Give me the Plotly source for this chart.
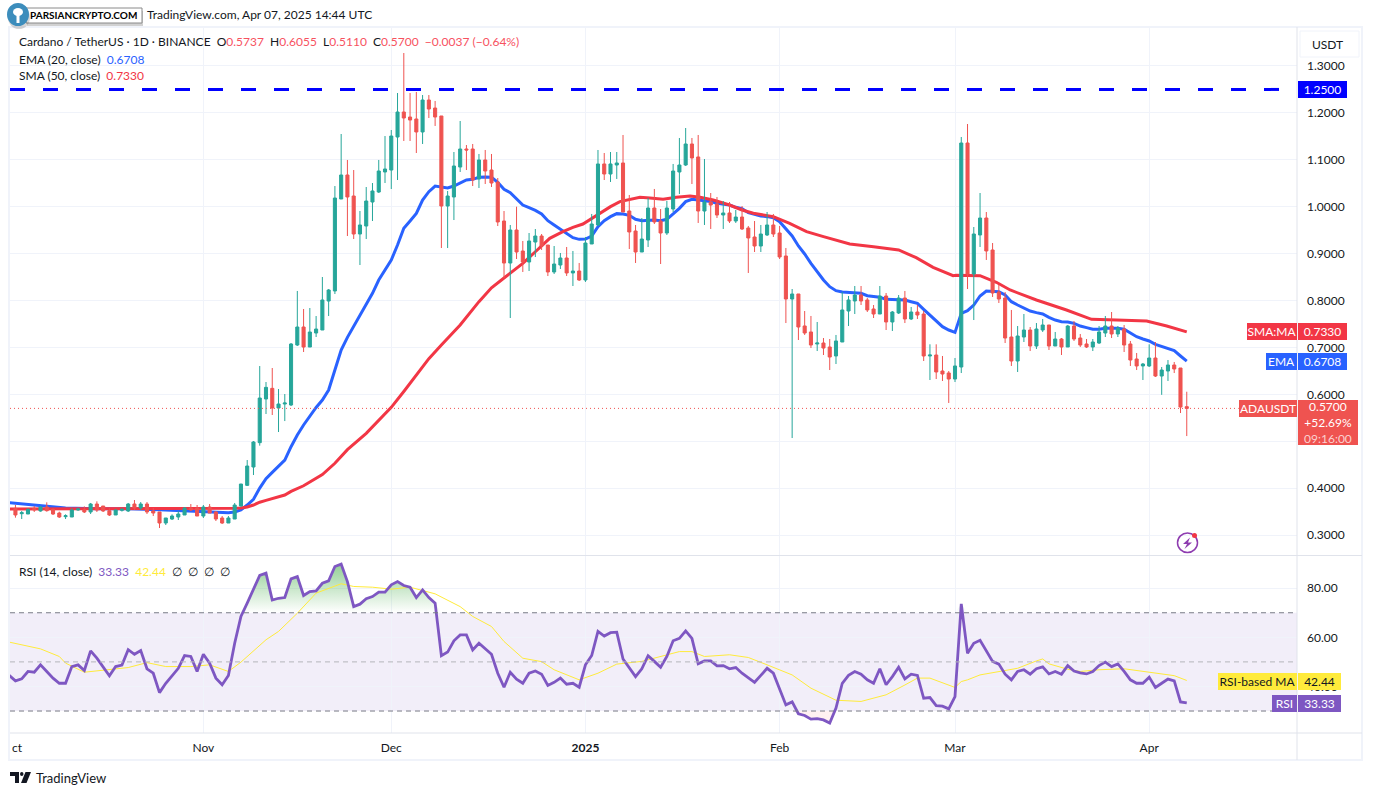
import plotly.graph_objects as go
import pandas as pd

# Data (open, high, low, close), first candle is 2 Oct 2024
data = {
  "candles": [
    [.3569,.3640,.3370,.3427],[.3455,.3512,.3341,.3476],[.3448,.3569,.3448,.3547],[.3569,.3618,.3491,.3533],
    [.3512,.3618,.3498,.3597],[.3597,.3697,.3498,.3519],[.3547,.3569,.3427,.3448],[.3469,.3498,.3363,.3384],
    [.3391,.3441,.3341,.3412],[.3384,.3569,.3384,.3533],[.3533,.3576,.3519,.3555],[.3540,.3610,.3469,.3491],
    [.3491,.3683,.3448,.3661],[.3661,.3718,.3491,.3533],[.3618,.3618,.3491,.3512],[.3519,.3569,.3405,.3427],
    [.3427,.3547,.3427,.3533],[.3526,.3570,.3500,.3547],[.3512,.3683,.3491,.3661],[.3661,.3746,.3533,.3576],
    [.3576,.3703,.3533,.3661],[.3661,.3703,.3448,.3491],[.3512,.3576,.3405,.3469],[.3491,.3491,.3149,.3256],
    [.3256,.3363,.3213,.3363],[.3341,.3441,.3320,.3405],[.3384,.3512,.3320,.3448],[.3427,.3597,.3427,.3576],
    [.3576,.3661,.3512,.3533],[.3576,.3640,.3405,.3405],
    # November
    [.3405,.3640,.3363,.3597],[.3597,.3661,.3469,.3469],[.3491,.3512,.3299,.3341],[.3363,.3405,.3235,.3256],
    [.3256,.3405,.3256,.3363],[.3341,.3683,.3341,.3640],[.3618,.4090,.3605,.4087],[.4059,.4599,.4045,.4471],
    [.4450,.5004,.4279,.4983],[.4969,.6603,.4905,.5921],[.5900,.6262,.5580,.6148],[.6127,.6561,.5559,.5708],
    [.5708,.6113,.5196,.5793],[.5793,.6006,.5430,.5814],[.5772,.7094,.5750,.7072],[.7051,.8203,.7030,.7435],
    [.7435,.7819,.6902,.7008],[.7008,.7840,.7008,.7328],[.7307,.7669,.7222,.7392],[.7371,.8501,.7371,.8011],
    [.7989,.8245,.7669,.8224],[.8203,1.0441,.8138,1.0185],[1.0164,1.1550,1.0164,1.0676],[1.0676,1.0996,.9375,1.0207],
    [1.0228,1.0782,.9311,.9418],[.9418,.9908,.8757,.9610],[.9588,1.0420,.9311,1.0121],[1.0100,1.0505,.9695,1.0335],
    [1.0313,1.0996,1.0292,1.0761],[1.0740,1.1507,1.0505,1.0804],
    # December
    [1.0782,1.1635,1.0377,1.1507],[1.1486,1.2424,1.0569,1.2019],[1.2019,1.3277,1.1401,1.1891],[1.1912,1.2424,1.1401,1.1848],
    [1.1870,1.2446,1.1145,1.1593],[1.1593,1.2381,1.1337,1.2275],[1.2275,1.2381,1.1891,1.2083],[1.2104,1.2254,1.1721,1.1912],
    [1.1934,1.1934,.9119,1.0015],[1.0015,1.0335,.9119,1.0228],[1.0207,1.1166,.9716,1.0868],[1.0846,1.1827,1.0740,1.1230],
    [1.1230,1.1315,1.0782,1.1209],[1.1230,1.1337,1.0441,1.0569],[1.0590,1.1124,1.0399,1.0996],[1.0996,1.1209,1.0484,1.0761],
    [1.0782,1.1124,1.0420,1.0505],[1.0526,1.0612,.9588,.9674],[.9695,.9908,.8480,.8799],[.8799,.9610,.7627,.9503],
    [.9503,1.0000,.8885,.9034],[.9055,.9269,.8608,.8821],[.8821,.9439,.8629,.9269],[.9247,.9524,.8927,.9375],
    [.9375,.9418,.9077,.9162],[.9183,.9183,.8522,.8608],[.8608,.9162,.8565,.8778],[.8757,.9013,.8672,.8906],
    [.8906,.9141,.8523,.8587],[.8587,.9056,.8309,.8629],[.8629,.8800,.8416,.8437],
    # January
    [.8437,.9354,.8395,.9226],[.9205,.9845,.9205,.9631],[.9610,1.1209,.9589,1.0911],[1.0911,1.1145,1.0569,1.0697],
    [1.0697,1.1166,1.0527,1.0911],[1.0889,1.1166,1.0591,1.0932],[1.0932,1.1529,.9887,.9887],[.9908,1.0250,.9098,.9461],
    [.9482,.9610,.8800,.9034],[.9034,.9759,.9034,.9311],[.9290,1.0186,.9141,.9972],[.9972,1.0378,.9631,.9674],
    [.9695,.9951,.8778,.9439],[.9439,1.0122,.9397,.9972],[.9951,1.0911,.9887,1.0761],[1.0740,1.1465,1.0271,1.0889],
    [1.0889,1.1678,1.0868,1.1337],[1.1337,1.1465,1.0484,1.1039],[1.1060,1.1529,.9653,.9908],[.9908,1.1017,.9610,1.0100],
    [1.0100,1.0292,.9525,1.0036],[1.0058,1.0207,.9759,.9823],[.9823,1.0122,.9525,.9866],[.9866,1.0100,.9653,.9695],
    [.9695,.9930,.9653,.9780],[.9780,1.0015,.9503,.9525],[.9546,.9589,.8587,.9333],[.9354,.9695,.9034,.9162],
    [.9162,.9610,.9034,.9418],[.9397,.9887,.9375,.9610],[.9610,.9845,.9354,.9418],
    # February
    [.9439,.9589,.8885,.8928],[.8949,.9120,.7520,.8032],[.8032,.8245,.5068,.8139],[.8139,.8139,.7158,.7435],
    [.7457,.7776,.7265,.7307],[.7329,.7670,.6987,.7051],[.7073,.7542,.6923,.7094],[.7094,.7200,.6838,.6987],
    [.7009,.7179,.6518,.6795],[.6817,.7265,.6646,.7137],[.7115,.8181,.7115,.7798],[.7776,.8096,.7456,.8011],
    [.7990,.8309,.7712,.8117],[.8117,.8309,.7904,.7990],[.8011,.8053,.7755,.7798],[.7819,.7904,.7627,.7712],
    [.7712,.8309,.7712,.8096],[.8096,.8160,.7371,.7542],[.7542,.7776,.7350,.7755],[.7734,.8117,.7712,.8053],
    [.8053,.8203,.7520,.7606],[.7606,.7862,.7584,.7755],[.7755,.7904,.7606,.7691],[.7712,.7776,.6710,.6817],
    [.6817,.7066,.6305,.6838],[.6838,.7066,.6326,.6476],[.6497,.6817,.6284,.6433],[.6455,.6497,.5815,.6326],
    # March
    [.6326,.6774,.6262,.6604],[.6582,1.1486,.6454,1.1358],[1.1358,1.1763,.8245,.8565],[.8565,.9567,.7584,.9418],
    [.9397,1.0292,.9141,.9759],[.9759,.9887,.8864,.9056],[.9077,.9226,.8075,.8160],[.8181,.8331,.7947,.8032],
    [.8053,.8181,.7094,.7200],[.7222,.7798,.6604,.6710],[.6710,.7456,.6476,.7243],[.7222,.7712,.7115,.7371],
    [.7371,.7435,.6923,.7030],[.7030,.7520,.6966,.7392],[.7371,.7606,.7329,.7478],[.7478,.7478,.6945,.7030],
    [.7030,.7329,.7030,.7179],[.7179,.7200,.6838,.7009],[.7009,.7478,.7009,.7456],[.7456,.7563,.7137,.7179],
    [.7200,.7286,.7009,.7051],[.7073,.7179,.6987,.7009],[.7009,.7179,.6923,.7115],[.7094,.7456,.7073,.7329],
    [.7307,.7670,.7222,.7456],[.7456,.7755,.7200,.7286],[.7286,.7456,.7222,.7414],[.7392,.7478,.6902,.7051],
    [.7073,.7137,.6604,.6731],[.6753,.6881,.6518,.6604],[.6604,.6668,.6305,.6646],
    # April
    [.6604,.7066,.6582,.6774],[.6774,.7115,.6369,.6390],[.6390,.6582,.5989,.6518],[.6497,.6731,.6284,.6625],
    [.6625,.6689,.6454,.6540],[.6561,.6561,.5601,.5729],[.5737,.6055,.5110,.5700]
  ],
  # [days after 1 Nov 2024, value]
  "ema": [
    [-30.9,.3690],[-27,.3633],[-22,.3576],[-17,.3562],[-12,.3562],[-7,.3540],[-2,.3505],[0,.3505],[3,.3483],[4,.3476],
    [5,.3490],[6,.3533],[7,.3640],[8,.3761],[9,.4000],[10,.4201],[11,.4336],[12,.4471],[13,.4599],[14,.4883],[15,.5132],
    [16,.5346],[17,.5540],[18,.5720],[19,.5878],[20,.6091],[21,.6518],[22,.6944],[23,.7214],[24,.7442],[25,.7691],
    [26,.7904],[27,.8153],[28,.8437],[29,.8650],[30,.8863],[31,.9183],[32,.9539],[33,.9695],[34,.9858],[35,1.0143],
    [36,1.0320],[37,1.0441],[38,1.0413],[39,1.0399],[40,1.0441],[41,1.0512],[42,1.0569],[43,1.0583],[44,1.0626],
    [45,1.0633],[46,1.0626],[47,1.0519],[48,1.0370],[49,1.0299],[50,1.0157],[51,1.0036],[52,.9979],[53,.9922],[54,.9844],
    [55,.9702],[56,.9610],[57,.9518],[58,.9418],[59,.9340],[60,.9304],[61,.9311],[62,.9375],[63,.9574],[64,.9702],
    [65,.9788],[66,.9852],[67,.9845],[68,.9816],[69,.9731],[70,.9702],[71,.9717],[72,.9717],[73,.9702],[74,.9731],
    [75,.9845],[76,.9965],[77,1.0108],[78,1.0157],[79,1.0143],[80,1.0129],[81,1.0108],[82,1.0072],[83,1.0058],[84,1.0036],
    [85,.9987],[86,.9958],[87,.9873],[88,.9830],[89,.9802],[90,.9788],[91,.9766],[92,.9681],[93,.9518],[94,.9375],
    [95,.9162],[96,.8992],[97,.8793],[98,.8615],[99,.8437],[100,.8295],[101,.8210],[102,.8181],[103,.8174],[104,.8174],
    [105,.8153],[106,.8103],[107,.8082],[108,.8068],[109,.8025],[110,.8025],[111,.8025],[112,.8011],[113,.7975],[114,.7940],
    [115,.7812],[116,.7691],[117,.7549],[118,.7442],[119,.7371],[120,.7321],[121,.7726],[122,.7783],[123,.7904],[124,.8096],
    [125,.8203],[126,.8203],[127,.8189],[128,.8117],[129,.7975],[130,.7904],[131,.7833],[132,.7776],[133,.7741],[134,.7712],
    [135,.7641],[136,.7584],[137,.7549],[138,.7542],[139,.7513],[140,.7456],[141,.7421],[142,.7386],[143,.7386],[144,.7407],
    [145,.7407],[146,.7407],[147,.7386],[148,.7314],[149,.7229],[150,.7179],[151,.7137],[152,.7066],[153,.7016],[154,.6980],
    [155,.6930],[156,.6817],[157,.6708]
  ],
  "sma": [
    [-30.9,.3555],[-25,.3555],[-20,.3555],[-15,.3555],[-10,.3562],[-5,.3569],[0,.3569],[5,.3569],[6,.3576],[7,.3597],[8,.3640],
    [9,.3700],[10,.3738],[12,.3810],[13,.3853],[14,.3930],[15,.3990],[16,.4050],[17,.4130],[18,.4210],[19,.4290],[21,.4530],
    [23,.4820],[26,.5168],[28,.5440],[30,.5722],[32,.6060],[34,.6411],[36,.6760],[38,.7050],[41,.7477],[44,.7975],[46,.8270],
    [48,.8480],[51,.8792],[53,.9040],[55.3,.9326],[57.4,.9468],[59,.9560],[60.6,.9631],[62.8,.9823],[65,1.0001],[66.5,1.0108],
    [68,1.0157],[69.7,1.0200],[71.3,1.0186],[73.4,1.0157],[75.5,1.0200],[77.7,1.0228],[79.3,1.0200],[81.4,1.0143],[84,1.0036],
    [86,.9930],[87.8,.9859],[91,.9788],[93.6,.9646],[96.3,.9468],[99,.9361],[101.6,.9269],[103.2,.9205],[107,.9148],[111,.9077],
    [113.8,.8913],[116.5,.8707],[119.7,.8530],[120.2,.8537],[124,.8530],[126.6,.8388],[128.8,.8224],[133,.8011],[137.8,.7798],
    [141.8,.7599],[145.8,.7584],[150.6,.7563],[153.8,.7456],[157,.7330]
  ],
  # daily RSI, first value is 1 Oct 2024
  "rsi": [
    44.5,42.3,43.1,46.1,45.8,48.8,46.1,43.4,41.3,41.3,48.1,48.8,46.5,54.5,51.5,48.1,44.3,48.1,48.7,55.0,53.1,54.6,47.2,45.4,37.5,
    41.3,44.5,47.4,52.6,52.2,46.1,
    53.1,49.5,43.4,40.7,44.5,57.6,68.5,73.9,79.3,85.2,86.1,75.2,75.9,76.2,83.8,84.7,77.0,78.6,78.9,82.0,83.0,88.8,89.8,82.7,72.5,
    73.5,75.7,76.6,78.4,78.4,
    81.4,82.7,81.1,80.4,76.2,79.3,76.2,73.9,52.5,54.0,58.6,61.0,61.0,54.9,57.6,55.3,53.1,45.4,39.7,45.8,43.0,41.3,45.4,46.3,45.0,
    40.4,41.7,43.4,40.9,41.3,39.7,
    48.8,52.6,62.4,60.5,61.9,62.1,51.2,47.7,44.0,47.2,52.5,50.2,47.8,52.2,58.6,59.6,62.6,59.6,49.2,50.4,50.4,48.4,48.5,47.2,47.7,
    45.4,43.4,41.7,44.5,47.4,45.4,
    39.3,32.5,33.7,28.9,28.2,26.7,26.9,26.4,25.1,31.2,41.3,44.5,46.1,45.0,42.7,41.3,47.2,40.7,44.0,47.8,43.1,45.0,44.5,35.2,35.5,
    32.2,32.0,30.9,
    35.9,73.6,53.5,57.6,58.8,54.2,50.2,49.1,45.0,42.7,46.1,46.8,45.0,47.2,48.0,45.1,46.1,45.0,48.5,46.3,45.5,45.1,46.1,48.5,49.9,
    48.1,49.2,46.1,42.7,41.3,41.3,
    43.8,39.6,41.3,43.0,42.3,33.7,33.33
  ],
  "rsi_ma": [
    [-30.9,58.0],[-27,55.8],[-26,55.3],[-23,52.2],[-22,49.5],[-19,45.8],[-18,46.1],[-15,47.0],[-12,47.7],[-9,49.7],[-6,48.1],[-2,48.1],
    [1,48.8],[4,46.1],[6,49.9],[10,59.0],[12,62.4],[15,69.8],[18,78.0],[22,81.8],[24,80.7],[27,80.4],[30,79.6],[33,80.4],[37,77.7],
    [41,72.5],[43,68.5],[46,64.4],[48,58.3],[51,51.5],[54,50.1],[56,46.8],[60,42.7],[63,45.4],[66,49.1],[70,50.2],[73,52.2],[76,54.2],
    [78,54.2],[80,52.2],[84,52.9],[87,51.8],[90,48.8],[94,44.7],[97,39.3],[101,34.4],[105,33.9],[109,36.6],[112,40.6],[114,43.4],
    [116,43.4],[120,39.6],[121,42.0],[122,42.7],[124,44.7],[127,46.1],[130,47.4],[133,50.4],[134,51.2],[135,49.2],[138,47.0],[140,46.1],
    [143,46.8],[147,47.2],[151,45.8],[155,44.4],[157,42.44]
  ]
}

W = 1373
H = 796
start = pd.Timestamp("2024-11-01")

# Prepare dates for the series
days = pd.date_range("2024-10-02", periods=len(data["candles"]))
rsi_days = pd.date_range("2024-10-01", periods=len(data["rsi"]))
ema_days = [start + pd.Timedelta(days=p[0]) for p in data["ema"]]
sma_days = [start + pd.Timedelta(days=p[0]) for p in data["sma"]]
ma_days = [start + pd.Timedelta(days=p[0]) for p in data["rsi_ma"]]
left = start + pd.Timedelta(days=-30.87)
right = start + pd.Timedelta(days=174.6)

# Create chart with the two moving averages under the candles
fig = go.Figure()
fig.add_trace(go.Scatter(x=ema_days, y=[p[1] for p in data["ema"]], mode="lines",
                         line=dict(color="#2962ff", width=3), zorder=0))
fig.add_trace(go.Scatter(x=sma_days, y=[p[1] for p in data["sma"]], mode="lines",
                         line=dict(color="#f23645", width=3), zorder=0))
fig.add_trace(go.Scatter(x=[left, start + pd.Timedelta(days=172.6)], y=[1.25, 1.25], mode="lines",
                         line=dict(color="#0000ff", width=3, dash="15px,18px"), zorder=0))
fig.add_trace(go.Scatter(x=[left, start + pd.Timedelta(days=165.3)], y=[0.57, 0.57], mode="lines",
                         line=dict(color="#ef5350", width=1, dash="1px,3px"), zorder=2))
fig.add_trace(go.Candlestick(
    x=days,
    open=[c[0] for c in data["candles"]],
    high=[c[1] for c in data["candles"]],
    low=[c[2] for c in data["candles"]],
    close=[c[3] for c in data["candles"]],
    increasing=dict(line=dict(color="#26a69a", width=1), fillcolor="#26a69a"),
    decreasing=dict(line=dict(color="#ef5350", width=1), fillcolor="#ef5350"),
    whiskerwidth=0,
    zorder=1,
))

# RSI pane, the fills come first
fig.add_trace(go.Scatter(x=rsi_days, y=[70] * len(data["rsi"]), mode="lines", line=dict(width=0), yaxis="y2"))
fig.add_trace(go.Scatter(
    x=rsi_days, y=[max(r, 70) for r in data["rsi"]], mode="lines", line=dict(width=0), yaxis="y2", fill="tonexty",
    fillgradient=dict(type="vertical", start=70, stop=88,
                      colorscale=[[0, "rgba(76,175,80,0)"], [1, "rgba(76,175,80,0.55)"]]),
))
fig.add_trace(go.Scatter(x=rsi_days, y=[30] * len(data["rsi"]), mode="lines", line=dict(width=0), yaxis="y2"))
fig.add_trace(go.Scatter(
    x=rsi_days, y=[min(r, 30) for r in data["rsi"]], mode="lines", line=dict(width=0), yaxis="y2", fill="tonexty",
    fillcolor="rgba(255,82,82,0.08)",
))
fig.add_trace(go.Scatter(x=ma_days, y=[p[1] for p in data["rsi_ma"]], mode="lines", yaxis="y2",
                         line=dict(color="#ffeb3b", width=1)))
fig.add_trace(go.Scatter(x=rsi_days, y=data["rsi"], mode="lines", yaxis="y2",
                         line=dict(color="#7e57c2", width=2.8)))

# RSI band and its levels
fig.add_shape(type="rect", xref="x domain", yref="y2", x0=0, x1=1, y0=30, y1=70, layer="below",
              fillcolor="rgba(126,87,194,0.1)", line_width=0)
for level, colour in [(70, "#787b86"), (50, "#b4b5bb"), (30, "#787b86")]:
    fig.add_shape(type="line", xref="x domain", yref="y2", x0=0, x1=1, y0=level, y1=level,
                  line=dict(color=colour, width=1, dash="5px,4px"))

# Frame, pane separators and the watermark, all given in pixels of the page
frames = [
    dict(type="rect", x0=9, x1=1362, y0=27, y1=760, line=dict(color="#f0f3fa", width=2)),
    dict(type="line", x0=1297, x1=1297, y0=27, y1=760, line=dict(color="#e0e3eb", width=1)),
    dict(type="line", x0=10, x1=1362, y0=555.5, y1=555.5, line=dict(color="#e0e3eb", width=1)),
    dict(type="line", x0=10, x1=1362, y0=733, y1=733, line=dict(color="#e0e3eb", width=1)),
    dict(type="rect", x0=1300, x1=1359, y0=31, y1=57, line=dict(color="#f0f3fa", width=1)),
    dict(type="rect", x0=27, x1=143, y0=11, y1=26, fillcolor="rgba(90,90,90,0.28)", line_width=0),
    dict(type="rect", x0=26, x1=142, y0=8, y1=23, fillcolor="#ffffff", line=dict(color="#8a8a8a", width=1)),
    dict(type="circle", x0=8, x1=30, y0=6, y1=29, fillcolor="rgba(90,90,90,0.25)", line_width=0),
    dict(type="circle", x0=7, x1=29, y0=3, y1=26, fillcolor="#3c8dbc", line_width=0),
    dict(type="rect", x0=16.5, x1=19.5, y0=14, y1=23, fillcolor="#ffffff", line_width=0),
    dict(type="circle", x0=13, x1=23, y0=8, y1=16, fillcolor="#ffffff", line_width=0),
    # TradingView mark
    dict(type="rect", x0=10, x1=19, y0=772, y1=776, fillcolor="#131722", line_width=0),
    dict(type="rect", x0=15, x1=19, y0=772, y1=783, fillcolor="#131722", line_width=0),
    dict(type="circle", x0=20, x1=23.5, y0=772, y1=776, fillcolor="#131722", line_width=0),
    dict(type="path", path="M 25.5 772 L 31 772 L 26.5 783 L 21 783 Z", fillcolor="#131722", line_width=0),
    # flash icon
    dict(type="circle", x0=1177.5, x1=1197.5, y0=533, y1=552.5, line=dict(color="#8e3cb0", width=1.5)),
    dict(type="path", path="M 1190 537.5 L 1183 544 L 1187 544 L 1184.5 549 L 1192 542.5 L 1188 542.5 Z",
         fillcolor="#8e3cb0", line_width=0),
    dict(type="circle", x0=1192, x1=1197, y0=533, y1=538, fillcolor="#f23645", line_width=0),
]
for shape in frames:
    shape["xref"] = "paper"
    shape["yref"] = "paper"
    if "path" in shape:
        parts = shape["path"].split()
        for i in range(1, len(parts), 3):
            parts[i] = str(float(parts[i]) / W)
            parts[i + 1] = str(1 - float(parts[i + 1]) / H)
        shape["path"] = " ".join(parts)
    else:
        shape["x0"] = shape["x0"] / W
        shape["x1"] = shape["x1"] / W
        shape["y0"] = 1 - shape["y0"] / H
        shape["y1"] = 1 - shape["y1"] / H
    fig.add_shape(**shape)

# Coloured labels on the price scale
tags = [
    {"x": 1298, "y": 81, "w": 49, "h": 17, "text": "1.2500", "bg": "#0000ff", "color": "#ffffff"},
    {"x": 1247, "y": 323, "w": 50, "h": 17, "text": "SMA:MA", "bg": "#f23645", "color": "#ffffff"},
    {"x": 1298, "y": 323, "w": 49, "h": 17, "text": "0.7330", "bg": "#f23645", "color": "#ffffff"},
    {"x": 1266, "y": 353, "w": 31, "h": 17, "text": "EMA", "bg": "#2962ff", "color": "#ffffff"},
    {"x": 1298, "y": 353, "w": 49, "h": 17, "text": "0.6708", "bg": "#2962ff", "color": "#ffffff"},
    {"x": 1239, "y": 400, "w": 58, "h": 17, "text": "ADAUSDT", "bg": "#ef5350", "color": "#ffffff"},
    {"x": 1298, "y": 400, "w": 60, "h": 45,
     "text": "0.5700<br>+52.69%<br><span style='color:#fbd0cf'>09:16:00</span>", "bg": "#ef5350", "color": "#ffffff"},
    {"x": 1218, "y": 673, "w": 79, "h": 17, "text": "RSI-based MA", "bg": "#ffeb3b", "color": "#131722"},
    {"x": 1298, "y": 673, "w": 43, "h": 17, "text": "42.44", "bg": "#ffeb3b", "color": "#131722"},
    {"x": 1272, "y": 695, "w": 25, "h": 17, "text": "RSI", "bg": "#7e57c2", "color": "#ffffff"},
    {"x": 1298, "y": 695, "w": 43, "h": 17, "text": "33.33", "bg": "#7e57c2", "color": "#ffffff"},
]
for tag in tags:
    fig.add_annotation(xref="paper", yref="paper", x=tag["x"] / W, y=1 - tag["y"] / H, xanchor="left", yanchor="top",
                       text=tag["text"], showarrow=False, width=tag["w"], height=tag["h"], align="center",
                       bgcolor=tag["bg"], borderpad=0, borderwidth=0, font=dict(color=tag["color"], size=12))

# Plain texts
red = "#f7525f"
texts = [
    (146, 15, "TradingView.com, Apr 07, 2025 14:44 UTC", 12, "#131722"),
    (1311, 44, "USDT", 12, "#131722"),
    (18, 42, "Cardano / TetherUS · 1D · BINANCE  O<span style='color:%s'>0.5737</span>  H<span style='color:%s'>0.6055</span>"
             "  L<span style='color:%s'>0.5110</span>  C<span style='color:%s'>0.5700  −0.0037 (−0.64%%)</span>" % (red, red, red, red),
     12, "#131722"),
    (18, 59, "EMA (20, close)  <span style='color:#2962ff'>0.6708</span>", 12, "#131722"),
    (18, 76, "SMA (50, close)  <span style='color:#f23645'>0.7330</span>", 12, "#131722"),
    (18, 571, "RSI (14, close)  <span style='color:#7e57c2'>33.33</span>  <span style='color:#ffeb3b'>42.44</span>"
              "  ∅  ∅  ∅  ∅", 12, "#131722"),
    (29, 15.5, "<b>PARSIANCRYPTO.COM</b>", 10, "#000000"),
    (11, 747, "ct", 12, "#131722"),
    (35, 778, "TradingView", 13, "#131722"),
]
for x, y, text, size, colour in texts:
    fig.add_annotation(xref="paper", yref="paper", x=x / W, y=1 - y / H, xanchor="left", yanchor="middle",
                       text=text, showarrow=False, borderpad=0, font=dict(color=colour, size=size))

# Update layout
fig.update_layout(
    width=W,
    height=H,
    margin=dict(l=0, r=0, t=0, b=0),
    paper_bgcolor="#ffffff",
    plot_bgcolor="#ffffff",
    showlegend=False,
    hovermode=False,
    font=dict(family="Lato", size=12, color="#131722"),
    xaxis=dict(
        domain=[10 / W, 1297 / W],
        range=[left, right],
        anchor="y2",
        rangeslider_visible=False,
        tickmode="array",
        tickvals=["2024-11-01", "2024-12-01", "2025-01-01", "2025-02-01", "2025-03-01", "2025-04-01"],
        ticktext=["Nov", "Dec", "<b>2025</b>", "Feb", "Mar", "Apr"],
        ticks="",
        ticklabelstandoff=6,
        gridcolor="#f0f3fa",
        zeroline=False,
        showline=False,
    ),
    yaxis=dict(
        domain=[1 - 555 / H, 1 - 28 / H],
        range=[0.2574, 1.381],
        side="right",
        anchor="x",
        tick0=0.3,
        dtick=0.1,
        tickformat=".4f",
        ticks="",
        ticklabelstandoff=9,
        gridcolor="#f0f3fa",
        zeroline=False,
    ),
    yaxis2=dict(
        domain=[1 - 733 / H, 1 - 556 / H],
        range=[21.06, 93.1],
        side="right",
        anchor="x",
        tick0=0,
        dtick=20,
        tickformat=".2f",
        ticks="",
        ticklabelstandoff=9,
        gridcolor="#f0f3fa",
        zeroline=False,
    ),
)

# Save the chart
fig.write_html("out.html", config=dict(displayModeBar=False), post_script="document.body.style.margin = '0';")
